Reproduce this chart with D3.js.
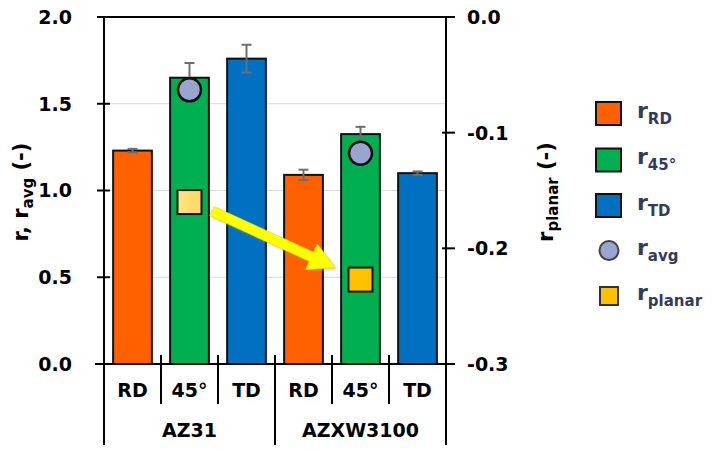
<!DOCTYPE html>
<html>
<head>
<meta charset="utf-8">
<script src="https://cdn.jsdelivr.net/npm/d3@7"></script>
<style>
html,body{margin:0;padding:0;background:#fff;}
svg{display:block;}
text{font-family:"DejaVu Sans",sans-serif;font-weight:bold;}
</style>
</head>
<body>
<svg id="chart" width="712" height="450"></svg>
<script>
// ---- data ----
const categories = ["RD", "45°", "TD", "RD", "45°", "TD"];
const groups = ["AZ31", "AZXW3100"];
const directions = ["RD", "45", "TD", "RD", "45", "TD"];
const rValues = [1.23, 1.65, 1.76, 1.09, 1.325, 1.10];
const rErrors = [0.01, 0.085, 0.08, 0.03, 0.042, 0.01];
const rAvgIndex = [1, 4];
const rAvg = [1.58, 1.215];
const rPlanar = [-0.16, -0.227];
const leftTicks = [0.0, 0.5, 1.0, 1.5, 2.0];
const rightTicks = [0.0, -0.1, -0.2, -0.3];

const colors = {RD: "#FF6000", "45": "#00B050", TD: "#0070C0"};

const svg = d3.select("#chart");
const L = 104, R = 446, T = 17, B = 364;

const x = d3.scaleBand().domain(d3.range(categories.length)).range([L, R])
  .paddingInner(0.32).paddingOuter(0.16);
const step = x.step();
const y = d3.scaleLinear().domain([0, 2]).range([B, T]);
const yR = d3.scaleLinear().domain([-0.3, 0]).range([B, T]);

// defs
const defs = svg.append("defs");
const g1 = defs.append("linearGradient").attr("id", "sq1").attr("x1", 0).attr("x2", 1).attr("y1", 0).attr("y2", 0);
g1.append("stop").attr("offset", "0%").attr("stop-color", "#FFE588");
g1.append("stop").attr("offset", "100%").attr("stop-color", "#FFD65C");
const blur = defs.append("filter").attr("id", "sh").attr("x", "-20%").attr("y", "-20%").attr("width", "140%").attr("height", "140%");
blur.append("feGaussianBlur").attr("stdDeviation", 1.5);

// gridlines
svg.append("g").selectAll("line").data(leftTicks.filter(d => d > 0 && d < 2)).join("line")
  .attr("x1", L).attr("x2", R).attr("y1", d => y(d)).attr("y2", d => y(d))
  .attr("stroke", "#D9D9D9").attr("stroke-width", 1.2);

// bars
svg.append("g").selectAll("rect").data(rValues).join("rect")
  .attr("x", (d, i) => x(i)).attr("width", x.bandwidth())
  .attr("y", d => y(d)).attr("height", d => B - y(d))
  .attr("fill", (d, i) => colors[directions[i]])
  .attr("stroke", "#111").attr("stroke-width", 2);

// error bars
const eg = svg.append("g").attr("stroke", "#6E6E6E").attr("stroke-width", 2);
rValues.forEach((v, i) => {
  const cx = x(i) + x.bandwidth() / 2;
  eg.append("line").attr("x1", cx).attr("x2", cx).attr("y1", y(v - rErrors[i])).attr("y2", y(v + rErrors[i]));
  eg.append("line").attr("x1", cx - 5).attr("x2", cx + 5).attr("y1", y(v + rErrors[i])).attr("y2", y(v + rErrors[i]));
  eg.append("line").attr("x1", cx - 5).attr("x2", cx + 5).attr("y1", y(v - rErrors[i])).attr("y2", y(v - rErrors[i]));
});

// r_avg circles
svg.append("g").selectAll("circle").data(rAvg).join("circle")
  .attr("cx", (d, i) => x(rAvgIndex[i]) + x.bandwidth() / 2)
  .attr("cy", d => y(d)).attr("r", 11.5)
  .attr("fill", "#9AA5CF").attr("stroke", "#111").attr("stroke-width", 2.5);

// r_planar squares
const sq = 24;
svg.append("g").selectAll("rect").data(rPlanar).join("rect")
  .attr("x", (d, i) => x(rAvgIndex[i]) + x.bandwidth() / 2 - sq / 2)
  .attr("y", d => yR(d) - sq / 2).attr("width", sq).attr("height", sq)
  .attr("fill", (d, i) => i === 0 ? "url(#sq1)" : "#FFC000")
  .attr("stroke", "#111").attr("stroke-width", 2);

// arrow (annotation) between the two r_planar points
(function () {
  const x0 = x(rAvgIndex[0]) + x.bandwidth() + 3, y0 = yR(rPlanar[0]) + 9;
  const x1 = x(rAvgIndex[1]) - 6, y1 = yR(rPlanar[1]) - 12;
  const dx = x1 - x0, dy = y1 - y0, len = Math.hypot(dx, dy);
  const ux = dx / len, uy = dy / len, nx = -uy, ny = ux;
  const bw = 5, hw = 14, hl = 26;
  const bx = x1 - ux * hl, by = y1 - uy * hl;
  const pts = [
    [x0 + nx * bw, y0 + ny * bw], [bx + nx * bw, by + ny * bw], [bx + nx * hw, by + ny * hw],
    [x1, y1], [bx - nx * hw, by - ny * hw], [bx - nx * bw, by - ny * bw], [x0 - nx * bw, y0 - ny * bw]
  ];
  const line = d3.line();
  svg.append("path").attr("d", line(pts.map(p => [p[0] + 2, p[1] + 2])) + "Z")
    .attr("fill", "#999").attr("opacity", 0.5).attr("filter", "url(#sh)");
  svg.append("path").attr("d", line(pts) + "Z").attr("fill", "#FFFF00")
    .attr("stroke", "#F0E000").attr("stroke-width", 0.8);
})();

// frame / axes
const ax = svg.append("g").attr("stroke", "#000").attr("stroke-width", 2).attr("fill", "none");
ax.append("line").attr("x1", L).attr("x2", R).attr("y1", T).attr("y2", T);
ax.append("line").attr("x1", L).attr("x2", L).attr("y1", T).attr("y2", 445);
ax.append("line").attr("x1", R).attr("x2", R).attr("y1", T).attr("y2", B);
ax.append("line").attr("x1", 95).attr("x2", 454).attr("y1", B).attr("y2", B);
leftTicks.forEach(t => ax.append("line").attr("x1", 97).attr("x2", 110).attr("y1", y(t)).attr("y2", y(t)));
rightTicks.forEach(t => ax.append("line").attr("x1", 442).attr("x2", 455).attr("y1", yR(t)).attr("y2", yR(t)));
// category separators
for (let i = 1; i <= categories.length; i++) {
  const sx = L + step * i;
  const long = (i % 3 === 0);
  ax.append("line").attr("x1", sx).attr("x2", sx).attr("y1", B - 9).attr("y2", long ? 445 : 404);
}

// tick labels
svg.append("g").selectAll("text").data(leftTicks).join("text")
  .attr("x", 72).attr("y", d => y(d)).attr("dy", "0.36em").attr("text-anchor", "end")
  .attr("font-size", 19).attr("fill", "#000").text(d => d.toFixed(1));
svg.append("g").selectAll("text").data(rightTicks).join("text")
  .attr("x", 467).attr("y", d => yR(d)).attr("dy", "0.36em").attr("text-anchor", "start")
  .attr("font-size", 19).attr("fill", "#000").text(d => d === 0 ? "0.0" : d.toFixed(1));

// category labels
svg.append("g").selectAll("text").data(categories).join("text")
  .attr("x", (d, i) => x(i) + x.bandwidth() / 2).attr("y", 397).attr("text-anchor", "middle")
  .attr("font-size", 19).attr("fill", "#000").text(d => d);
svg.append("g").selectAll("text").data(groups).join("text")
  .attr("x", (d, i) => L + step * (3 * i + 1.5)).attr("y", 437).attr("text-anchor", "middle")
  .attr("font-size", 19).attr("fill", "#000").text(d => d);

// axis titles
function subText(sel, main, sub, tail, fs, sfs, dy) {
  sel.append("tspan").text(main);
  sel.append("tspan").attr("font-size", sfs).attr("dy", dy).text(sub);
  if (tail) sel.append("tspan").attr("dy", -dy).text(tail);
}
const lt = svg.append("text").attr("transform", "translate(28,192) rotate(-90)")
  .attr("text-anchor", "middle").attr("font-size", 21).attr("fill", "#000");
lt.append("tspan").text("r, r");
lt.append("tspan").attr("font-size", 15).attr("dy", 5).text("avg");
lt.append("tspan").attr("dy", -5).text(" (-)");

const rt = svg.append("text").attr("transform", "translate(553,192) rotate(-90)")
  .attr("text-anchor", "middle").attr("font-size", 21).attr("fill", "#000");
rt.append("tspan").text("r");
rt.append("tspan").attr("font-size", 15).attr("dy", 5).text("planar");
rt.append("tspan").attr("dy", -5).text(" (-)");

// legend
const legendLabels = ["RD", "45°", "TD", "avg", "planar"];
const legendRows = [113.5, 160, 205.5, 250.5, 296];
const lg = svg.append("g");
legendLabels.forEach((lab, i) => {
  const cy = legendRows[i];
  if (i < 3) {
    lg.append("rect").attr("x", 596).attr("y", cy - 11.5).attr("width", 25).attr("height", 23)
      .attr("fill", colors[directions[i]]).attr("stroke", "#111").attr("stroke-width", 2);
  } else if (i === 3) {
    lg.append("circle").attr("cx", 609).attr("cy", cy).attr("r", 9.5)
      .attr("fill", "#9AA5CF").attr("stroke", "#444").attr("stroke-width", 2);
  } else {
    lg.append("rect").attr("x", 600).attr("y", cy - 9).attr("width", 18).attr("height", 18)
      .attr("fill", "#FFC000").attr("stroke", "#333").attr("stroke-width", 2);
  }
  const t = lg.append("text").attr("x", 637).attr("y", cy + 4).attr("font-size", 22).attr("fill", "#353A5C");
  t.append("tspan").text("r");
  t.append("tspan").attr("font-size", 15).attr("dy", 6).text(lab);
});
</script>
</body>
</html>
